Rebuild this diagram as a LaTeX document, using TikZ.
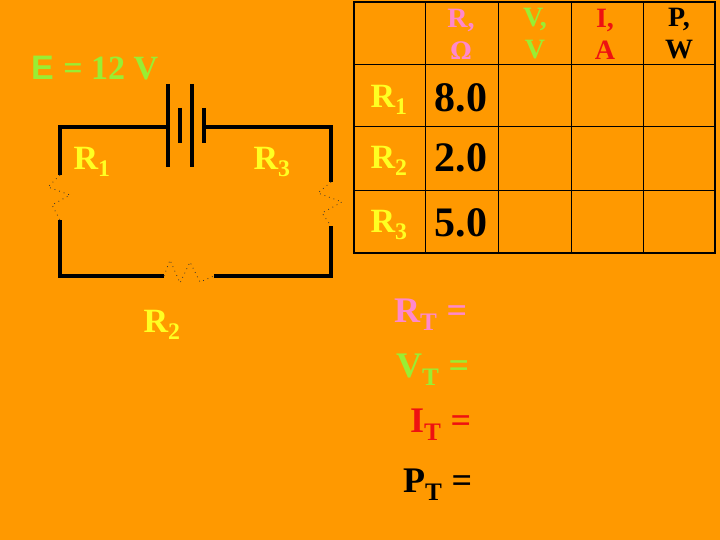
\documentclass[tikz,border=0pt]{standalone}
\usepackage{fontspec}
\setmainfont{Liberation Serif}
\newfontfamily\sansb{Liberation Sans}
\definecolor{bg}{HTML}{FF9900}
\definecolor{pinkc}{HTML}{FF88CC}
\definecolor{greenc}{HTML}{99EE33}
\definecolor{redc}{HTML}{EE1111}
\definecolor{yel}{HTML}{FFFF22}
\begin{document}
\begin{tikzpicture}[x=1pt,y=-1pt,
  wire/.style={line width=4pt,line cap=rect},
  grid/.style={line width=1pt},
  res/.style={dash pattern=on 0.8pt off 4pt,line width=0.8pt,black!80},
  lbl/.style={font=\bfseries\fontsize{34}{36}\selectfont,text=yel,inner sep=0},
  val/.style={font=\bfseries\fontsize{42}{44}\selectfont,inner sep=0},
  hdr/.style={font=\bfseries\fontsize{28}{32}\selectfont,align=center,inner sep=0},
  tot/.style={font=\bfseries\fontsize{36}{38}\selectfont,inner sep=0}]
\fill[bg] (0,0) rectangle (720,540);
\useasboundingbox (0,0) rectangle (720,540);
% circuit
\coordinate (tl) at (60,127); \coordinate (tr) at (331,127);
\coordinate (bl) at (60,276); \coordinate (br) at (331,276);
\draw[wire] (166,127) -- (tl) -- (60,173);
\draw[wire] (60,222) -- (bl) -- (162,276);
\draw[wire] (216,276) -- (br) -- (331,228);
\draw[wire] (331,180) -- (tr) -- (206,127);
\draw[line width=4pt] (168,84) -- (168,167) (192,84) -- (192,167);
\draw[line width=4pt] (180,108) -- (180,143) (204,108) -- (204,143);
\draw[res] (60,175) -- (48,187) -- (70,195) -- (52,205) -- (60,220);
\draw[res] (331,182) -- (318,193) -- (342,202) -- (322,213) -- (331,226);
\draw[res] (164,276) -- (170,260) -- (180,283) -- (190,262) -- (200,282) -- (214,276);
\node[font=\sansb\bfseries\fontsize{34}{36}\selectfont,text=greenc,inner sep=0,anchor=west] (e) at (31,68) {E \rmfamily= 12 V};
\node[lbl] (r1) at (92,162) {R\textsubscript{1}};
\node[lbl] (r3) at (272,162) {R\textsubscript{3}};
\node[lbl] (r2) at (162,325) {R\textsubscript{2}};
% table
\draw[grid,line width=2.5pt] (354,2) rectangle (715,253);
\foreach \x in {425,498,571,643} \draw[grid] (\x,2) -- (\x,253);
\foreach \y in {65,127,191} \draw[grid] (354,\y) -- (715,\y);
\node[hdr,text=pinkc] (hR) at (461,34) {R,\\\fontspec{DejaVu Serif}\bfseries\fontsize{24}{32}\selectfont Ω};
\node[hdr,text=greenc] (hV) at (535,34) {V,\\V};
\node[hdr,text=redc] (hI) at (605,34) {I,\\A};
\node[hdr] (hP) at (679,34) {P,\\W};
\node[lbl] (t1) at (389,100) {R\textsubscript{1}};
\node[lbl] (t2) at (389,161) {R\textsubscript{2}};
\node[lbl] (t3) at (389,225) {R\textsubscript{3}};
\node[val] (v1) at (461,98) {8.0};
\node[val] (v2) at (461,158) {2.0};
\node[val] (v3) at (461,223) {5.0};
% totals
\node[tot,text=pinkc,anchor=west] (rt) at (394,315) {R\textsubscript{T} =};
\node[tot,text=greenc,anchor=west] (vt) at (396,370) {V\textsubscript{T} =};
\node[tot,text=redc,anchor=west] (it) at (410,425) {I\textsubscript{T} =};
\node[tot,anchor=west] (pt) at (403,485) {P\textsubscript{T} =};
\end{tikzpicture}
\end{document}
